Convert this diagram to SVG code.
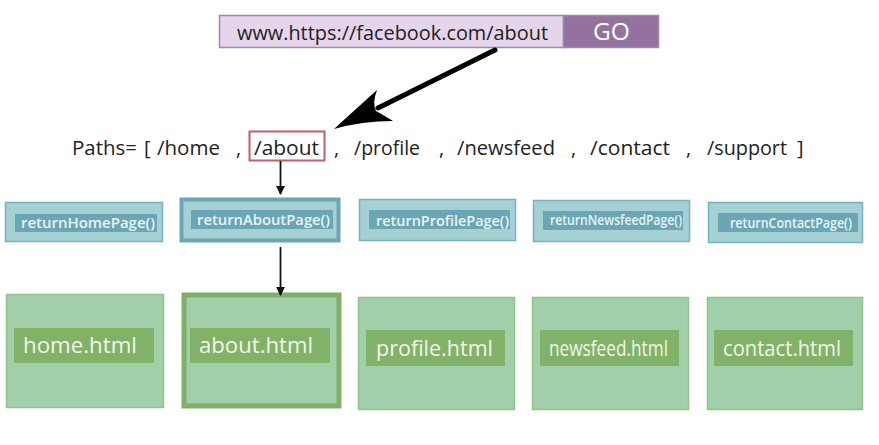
<svg xmlns="http://www.w3.org/2000/svg" width="879" height="445" viewBox="0 0 879 445">
<defs>
<style>
.t{font-family:"Open Sans","Noto Sans",sans-serif;}
.path{font-size:20px;fill:#222;font-weight:500;}
.fo{fill:#a6d1d4;stroke:#78b1bf;stroke-width:1.5;}
.fi{fill:#6aa6b6;}
.ft{font-size:15px;fill:#e8f4f4;font-weight:600;}
.ho{fill:#a0cfa9;stroke:#90c38c;stroke-width:1.5;}
.hi{fill:#82b268;}
.ht{font-size:21px;fill:#f0f6ea;font-weight:500;}
</style>
<marker id="ah" viewBox="0 0 10 10" refX="9" refY="5" markerWidth="9" markerHeight="9" markerUnits="userSpaceOnUse" orient="auto">
<path d="M0,0 L10,5 L0,10 Z" fill="#111"/>
</marker>
</defs>
<rect width="879" height="445" fill="#ffffff"/>

<g id="url-bar">
<rect x="219.5" y="15.5" width="344" height="32" fill="#e4d5ea" stroke="#a583b4" stroke-width="1.5"/>
<rect x="563.5" y="15.5" width="95" height="32" fill="#94729f" stroke="#a583b4" stroke-width="1.5"/>
<text class="t" x="237" y="39.5" font-size="20" font-weight="500" fill="#222" textLength="311" lengthAdjust="spacingAndGlyphs">www.https://facebook.com/about</text>
<text class="t" x="593" y="40" font-size="23" font-weight="500" fill="#fff" textLength="37" lengthAdjust="spacingAndGlyphs">GO</text>
</g>

<g id="paths-list">
<text class="t path" x="72" y="155" textLength="65" lengthAdjust="spacingAndGlyphs">Paths=</text>
<text class="t path" x="144" y="155">[</text>
<text class="t path" x="157" y="155" textLength="63" lengthAdjust="spacingAndGlyphs">/home</text>
<text class="t path" x="236" y="155">,</text>
<rect x="249.5" y="131.5" width="75" height="29" fill="none" stroke="#c05f6c" stroke-width="2"/>
<text class="t path" x="254" y="155" textLength="65" lengthAdjust="spacingAndGlyphs">/about</text>
<text class="t path" x="334" y="155">,</text>
<text class="t path" x="354" y="155" textLength="66" lengthAdjust="spacingAndGlyphs">/profile</text>
<text class="t path" x="439" y="155">,</text>
<text class="t path" x="457" y="155" textLength="98" lengthAdjust="spacingAndGlyphs">/newsfeed</text>
<text class="t path" x="571" y="155">,</text>
<text class="t path" x="590" y="155" textLength="80" lengthAdjust="spacingAndGlyphs">/contact</text>
<text class="t path" x="686" y="155">,</text>
<text class="t path" x="707" y="155" textLength="80" lengthAdjust="spacingAndGlyphs">/support</text>
<text class="t path" x="797" y="155">]</text>
</g>

<g id="fn-home">
<rect class="fo" x="5.5" y="202.5" width="157" height="39"/>
<rect class="fi" x="15" y="214" width="142" height="18"/>
<text class="t ft" x="21" y="228" textLength="134" lengthAdjust="spacingAndGlyphs">returnHomePage()</text>
</g>
<g id="fn-about">
<rect x="181.5" y="199.5" width="157" height="41" fill="#a6d1d4" stroke="#6aa6b6" stroke-width="4"/>
<rect class="fi" x="191" y="210" width="142" height="19"/>
<text class="t ft" x="197" y="225" textLength="133" lengthAdjust="spacingAndGlyphs">returnAboutPage()</text>
</g>
<g id="fn-profile">
<rect class="fo" x="359.5" y="199.5" width="156" height="41"/>
<rect class="fi" x="369" y="210" width="141" height="19"/>
<text class="t ft" x="376" y="225.5" textLength="133" lengthAdjust="spacingAndGlyphs">returnProfilePage()</text>
</g>
<g id="fn-newsfeed">
<rect class="fo" x="533.5" y="200.5" width="156" height="41"/>
<rect class="fi" x="543" y="211" width="140" height="19"/>
<text class="t ft" x="550" y="225" font-size="13" textLength="132" lengthAdjust="spacingAndGlyphs">returnNewsfeedPage()</text>
</g>
<g id="fn-contact">
<rect class="fo" x="708.5" y="202.5" width="154" height="40"/>
<rect class="fi" x="718" y="213" width="140" height="19"/>
<text class="t ft" x="730" y="228" font-size="13" textLength="122" lengthAdjust="spacingAndGlyphs">returnContactPage()</text>
</g>

<g id="page-home">
<rect class="ho" x="6.5" y="294.5" width="157" height="113"/>
<rect class="hi" x="14" y="328" width="140" height="35"/>
<text class="t ht" x="23" y="353" textLength="114" lengthAdjust="spacingAndGlyphs">home.html</text>
</g>
<g id="page-about">
<rect x="184" y="295" width="155" height="111" fill="#a0cfa9" stroke="#80b068" stroke-width="5"/>
<rect class="hi" x="190" y="328" width="140" height="35"/>
<text class="t ht" x="199" y="353" textLength="114" lengthAdjust="spacingAndGlyphs">about.html</text>
</g>
<g id="page-profile">
<rect class="ho" x="358.5" y="297.5" width="156" height="112"/>
<rect class="hi" x="366" y="330" width="139" height="36"/>
<text class="t ht" x="376" y="356" textLength="117" lengthAdjust="spacingAndGlyphs">profile.html</text>
</g>
<g id="page-newsfeed">
<rect class="ho" x="532.5" y="297.5" width="156" height="112"/>
<rect class="hi" x="540" y="330" width="139" height="36"/>
<text class="t ht" x="549" y="355.5" font-size="16.5" textLength="119" lengthAdjust="spacingAndGlyphs">newsfeed.html</text>
</g>
<g id="page-contact">
<rect class="ho" x="707.5" y="297.5" width="155" height="112"/>
<rect class="hi" x="714" y="330" width="139" height="36"/>
<text class="t ht" x="723" y="356" textLength="118" lengthAdjust="spacingAndGlyphs">contact.html</text>
</g>

<g id="connectors">
<line x1="495" y1="50" x2="378" y2="108" stroke="#000" stroke-width="5" stroke-linecap="round"/>
<path d="M334,129 Q357,108 377,90 Q372,103 376,111 Q385,116 393,121 Q362,121 334,129 Z" fill="#000"/>
<line x1="280.5" y1="161" x2="280.5" y2="194" stroke="#111" stroke-width="1.8" marker-end="url(#ah)"/>
<line x1="280.5" y1="247" x2="280.5" y2="295" stroke="#111" stroke-width="1.8" marker-end="url(#ah)"/>
</g>
</svg>
